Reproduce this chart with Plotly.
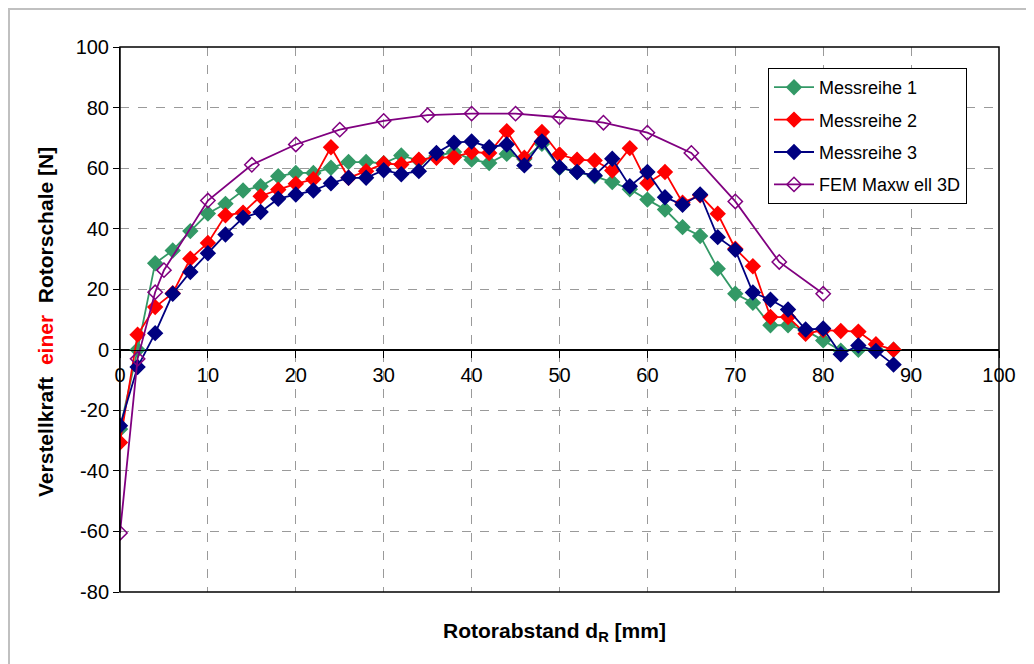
import plotly.graph_objects as go

# ---- data ----
x_mess = list(range(0, 90, 2))
messreihe_1 = [-26.2, 0.0, 28.6, 32.8, 39.2, 45.0, 48.2, 52.6, 54.0, 57.3, 58.4, 58.4, 60.1, 62.0, 62.0,
               61.6, 64.2, 62.5, 64.0, 65.3, 62.8, 61.7, 64.7, 63.0, 68.0, 60.1, 58.7, 57.3, 55.4, 53.0,
               49.6, 46.3, 40.5, 37.6, 26.8, 18.5, 15.5, 8.1, 8.1, 6.4, 3.1, -0.3, 0.0, 0.0, 0.0]
messreihe_2 = [-30.6, 5.0, 14.1, 18.7, 30.1, 35.3, 44.4, 45.3, 50.7, 52.9, 54.8, 56.3, 66.9, 56.8, 59.0,
               61.5, 61.2, 62.8, 63.4, 63.6, 65.3, 65.0, 72.2, 63.4, 71.9, 64.5, 62.8, 62.5, 59.2, 66.6,
               55.0, 58.7, 48.6, 51.0, 44.9, 33.4, 27.6, 10.8, 10.8, 5.3, 6.5, 6.2, 6.0, 1.8, 0.0]
messreihe_3 = [-25.1, -5.7, 5.5, 18.5, 25.7, 31.9, 38.1, 43.6, 45.5, 49.9, 51.3, 52.6, 55.0, 56.8, 56.8,
               59.3, 58.0, 59.0, 65.0, 68.4, 68.8, 66.9, 67.8, 60.9, 68.8, 60.3, 58.7, 57.6, 63.1, 54.0,
               58.7, 50.4, 47.9, 51.3, 37.2, 33.0, 18.9, 16.5, 13.3, 6.7, 7.0, -1.5, 1.4, -0.4, -4.9]
x_fem = [0, 2, 4, 5, 10, 15, 20, 25, 30, 35, 40, 45, 50, 55, 60, 65, 70, 75, 80]
fem = [-60.5, -3.0, 19.0, 26.3, 49.3, 61.1, 67.8, 72.7, 75.6, 77.5, 78.0, 78.0, 76.8, 75.0, 71.7,
       65.0, 49.0, 29.0, 18.5]
names = ["Messreihe 1", "Messreihe 2", "Messreihe 3", "FEM Maxw ell 3D"]
x_ticks = list(range(0, 101, 10))
y_ticks = list(range(-80, 101, 20))
y_ticktext = [str(v) for v in y_ticks]

FONT = "Liberation Sans, Arial, sans-serif"
OFF = 8  # page body margin
W, H = 1026, 656
ML, MR, MT, MB = 112, 35, 39, 72
PW, PH = W - ML - MR, H - MT - MB

def px(p):  # page pixel -> paper
    return (p - OFF - ML) / PW

def py(p):
    return (OFF + H - MB - p) / PH

fig = go.Figure()
series = [(x_mess, messreihe_1, "#339966", "diamond"),
          (x_mess, messreihe_2, "#FF0000", "diamond"),
          (x_mess, messreihe_3, "#000080", "diamond"),
          (x_fem, fem, "#800080", "diamond-open")]
for i, (xs, ys, col, sym) in enumerate(series):
    fig.add_trace(go.Scatter(
        x=xs, y=ys, name=names[i], mode="lines+markers", legendgroup=f"g{i}",
        line=dict(color=col, width=1.8),
        marker=dict(symbol=sym, size=11, color=col, line=dict(color=col, width=1.5)),
    ))

fig.update_layout(
    width=W, height=H,
    margin=dict(l=ML, r=MR, t=MT, b=MB),
    paper_bgcolor="white", plot_bgcolor="white",
    font=dict(family=FONT, size=20, color="black"),
    showlegend=True,
    legend=dict(x=px(768), y=py(68), xanchor="left", yanchor="top",
                bgcolor="white", bordercolor="black", borderwidth=1,
                font=dict(family=FONT, size=18), tracegroupgap=6, itemwidth=40),
    xaxis=dict(range=[0, 100], tickvals=x_ticks, anchor="free", position=80 / 180,
               showline=True, linecolor="black", linewidth=1,
               ticks="outside", ticklen=7, tickcolor="black",
               showgrid=True, gridcolor="#9a9a9a", griddash="dash", gridwidth=1,
               zeroline=False, tickfont=dict(size=20)),
    yaxis=dict(range=[-80, 100], tickvals=y_ticks, ticktext=y_ticktext,
               showline=True, linecolor="black", linewidth=1,
               ticks="outside", ticklen=6, tickcolor="black",
               showgrid=True, gridcolor="#9a9a9a", griddash="dash", gridwidth=1,
               zeroline=True, zerolinecolor="black", zerolinewidth=1,
               tickfont=dict(size=20)),
    shapes=[
        dict(type="rect", xref="paper", yref="paper", x0=0, x1=1, y0=0, y1=1,
             line=dict(color="black", width=1.5), layer="above"),
        dict(type="rect", xref="paper", yref="paper", x0=px(9), x1=px(1030), y0=py(670), y1=py(9),
             line=dict(color="#c0c0c0", width=2), layer="below"),
    ],
    annotations=[
        dict(text="Rotorabstand d<sub>R</sub> [mm]", xref="paper", yref="paper",
             x=px(554), y=py(632), xanchor="center", yanchor="middle", showarrow=False,
             font=dict(family=FONT, size=21, color="black", weight="bold")),
        dict(text="Verstellkraft  <span style=\"color:#FF0000\">einer</span>  Rotorschale [N]",
             xref="paper", yref="paper", x=px(45), y=py(322), textangle=-90,
             xanchor="center", yanchor="middle", showarrow=False,
             font=dict(family=FONT, size=21, color="black", weight="bold")),
    ],
)

fig.write_html("out.html")
